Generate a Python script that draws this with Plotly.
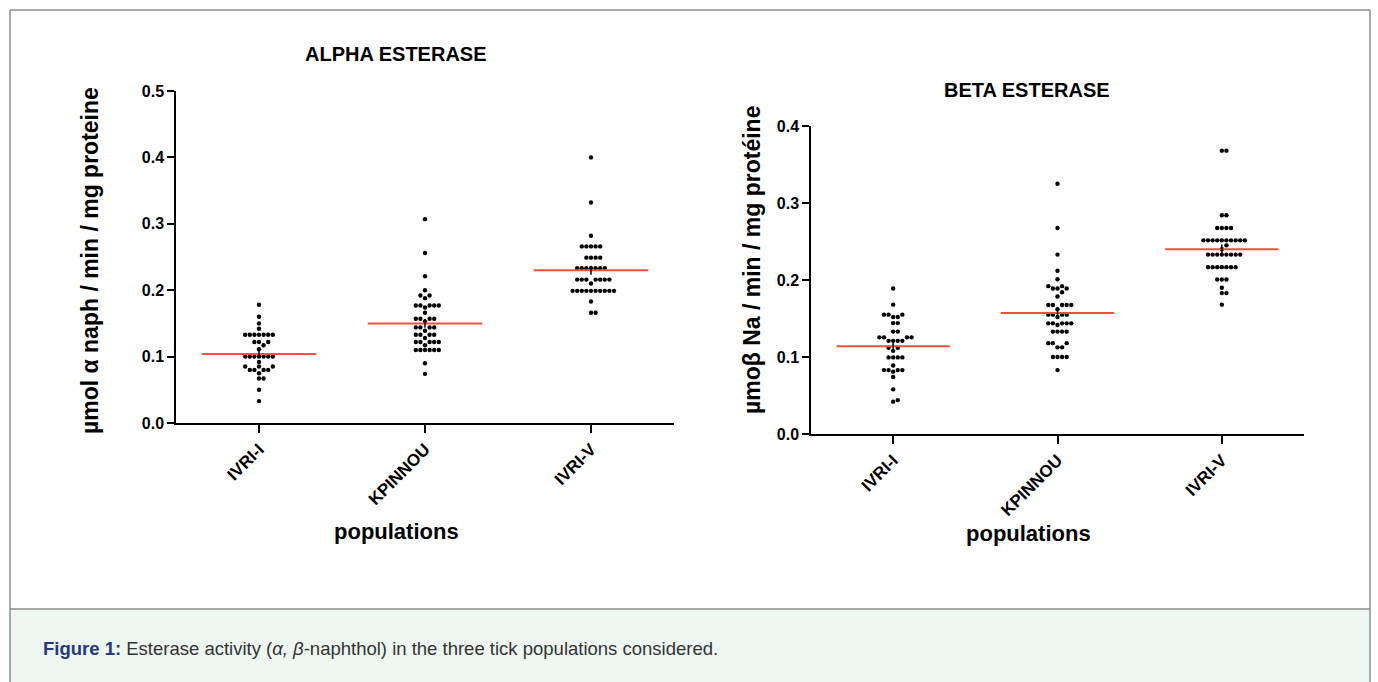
import numpy as np
import plotly.graph_objects as go

W, H = 1378, 682

categories = ["IVRI-I", "KPINNOU", "IVRI-V"]

# ---- ALPHA ESTERASE values (µmol α naph / min / mg proteine)
alpha_ivri_i = [0.178, 0.160, 0.150, 0.142] + [0.133] * 7 + [0.122] * 3 + [0.117, 0.111] \
    + [0.100] * 7 + [0.092] + [0.085] * 3 + [0.080] * 4 + [0.075] + [0.067] * 2 + [0.050, 0.033]
alpha_kpinnou = [0.307, 0.256, 0.221, 0.200, 0.192, 0.192, 0.188] + [0.177] * 5 + [0.174, 0.166] \
    + [0.157] * 4 + [0.153] + [0.144] * 4 + [0.139] + [0.133] * 4 + [0.128] + [0.122] * 5 \
    + [0.117] + [0.110] * 6 + [0.090, 0.074]
alpha_ivri_v = [0.400, 0.332, 0.282] + [0.266] * 5 + [0.249] * 4 + [0.233] * 7 + [0.216] * 7 \
    + [0.210] + [0.199] * 10 + [0.183] + [0.166] * 2
alpha_means = [0.104, 0.150, 0.230]

# ---- BETA ESTERASE values (µmoβ Na / min / mg protéine)
beta_ivri_i = [0.189, 0.168] + [0.155] * 3 + [0.152] * 2 + [0.144] * 2 + [0.133] * 2 \
    + [0.1255] * 4 + [0.121] * 4 + [0.112] * 2 + [0.108] + [0.0995] * 4 + [0.089] \
    + [0.083] * 4 + [0.081, 0.074, 0.058, 0.044, 0.042]
beta_kpinnou = [0.325, 0.2675, 0.233, 0.212, 0.201] + [0.192] * 2 + [0.189] * 3 + [0.184, 0.1785] \
    + [0.1676] * 5 + [0.162] + [0.155] * 4 + [0.152] + [0.1437] * 5 + [0.1416] + [0.133] * 4 \
    + [0.118] * 3 + [0.1125] * 2 + [0.100] * 4 + [0.083]
beta_ivri_v = [0.368] * 2 + [0.284] * 2 + [0.2675] * 4 + [0.2515] * 10 + [0.245, 0.240] \
    + [0.233] * 8 + [0.2167] * 7 + [0.2007] * 3 + [0.190] + [0.183] * 2 + [0.168]
beta_means = [0.114, 0.157, 0.240]

alpha_groups = [alpha_ivri_i, alpha_kpinnou, alpha_ivri_v]
beta_groups = [beta_ivri_i, beta_kpinnou, beta_ivri_v]

# ---- layout geometry (pixels)
L_X0, L_X1, L_Y0, L_Y1 = 176, 674, 423, 91   # left plot area
R_X0, R_X1, R_Y0, R_Y1 = 811, 1304, 434, 126  # right plot area
L_YMAX, R_YMAX = 0.5, 0.4


def swarm(values, px_per_unit, px_per_cat, d=4.6):
    """Beeswarm horizontal offsets (in category units)."""
    order = np.argsort(values)
    placed = []
    offs = np.zeros(len(values))
    for i in order:
        y = values[i] * px_per_unit
        k = 0
        while True:
            cand = 0 if k == 0 else ((k + 1) // 2) * d * (1 if k % 2 else -1)
            ok = all((cand - px) ** 2 + (y - py) ** 2 >= (d * 0.98) ** 2 for px, py in placed)
            if ok:
                break
            k += 1
        placed.append((cand, y))
        offs[i] = cand / px_per_cat
    return offs


fig = go.Figure()


def add_panel(groups, means, xa, ya, ppu, ppc):
    for ci, vals in enumerate(groups):
        vals = np.array(vals, dtype=float)
        offs = swarm(vals, ppu, ppc)
        fig.add_trace(go.Scatter(
            x=ci + offs, y=vals, mode="markers", xaxis=xa, yaxis=ya,
            marker=dict(size=4.4, color="black", line=dict(width=0)),
            showlegend=False, hoverinfo="y"))
        m = means[ci]
        sem = vals.std(ddof=1) / np.sqrt(len(vals))
        fig.add_trace(go.Scatter(
            x=[ci - 0.345, ci + 0.345], y=[m, m], mode="lines", xaxis=xa, yaxis=ya,
            line=dict(color="#f4503c", width=2), showlegend=False, hoverinfo="skip"))
        fig.add_trace(go.Scatter(
            x=[ci, ci], y=[m - sem, m + sem], mode="lines", xaxis=xa, yaxis=ya,
            line=dict(color="black", width=1.5), showlegend=False, hoverinfo="skip"))


add_panel(alpha_groups, alpha_means, "x", "y",
          (L_Y0 - L_Y1) / L_YMAX, (L_X1 - L_X0) / 3)
add_panel(beta_groups, beta_means, "x2", "y2",
          (R_Y0 - R_Y1) / R_YMAX, (R_X1 - R_X0) / 3)

FONT = "Liberation Sans, Arial, sans-serif"


def xax(x0, x1):
    return dict(domain=[x0 / W, x1 / W], range=[-0.5, 2.5], tickvals=[0, 1, 2],
                ticktext=categories, tickangle=-45, ticks="outside", ticklen=8,
                tickwidth=1.5, tickcolor="black", showline=True, linecolor="black",
                linewidth=1.5, showgrid=False, zeroline=False, fixedrange=True,
                automargin=False,
                tickfont=dict(family=FONT, size=17, color="black", weight="bold"))


def yax(y0, y1, ymax, anchor):
    return dict(domain=[1 - y0 / H, 1 - y1 / H], range=[0, ymax], dtick=0.1,
                tickformat=".1f", ticks="outside", ticklen=7, tickwidth=1.5,
                tickcolor="black", showline=True, linecolor="black", linewidth=1.5,
                showgrid=False, zeroline=False, fixedrange=True, anchor=anchor,
                automargin=False,
                tickfont=dict(family=FONT, size=16, color="black", weight="bold"))


fig.update_layout(
    width=W, height=H, autosize=False, margin=dict(l=0, r=0, t=0, b=0, pad=0, autoexpand=False),
    paper_bgcolor="white", plot_bgcolor="rgba(0,0,0,0)",
    xaxis=dict(xax(L_X0, L_X1), anchor="y"),
    yaxis=yax(L_Y0, L_Y1, L_YMAX, "x"),
    xaxis2=dict(xax(R_X0, R_X1), anchor="y2"),
    yaxis2=yax(R_Y0, R_Y1, R_YMAX, "x2"),
)

# frame and caption box
fig.add_shape(type="rect", xref="paper", yref="paper", x0=10 / W, x1=1370 / W,
              y0=1 - 609 / H, y1=0, fillcolor="#eef6f1", line=dict(width=0), layer="below")
fig.add_shape(type="line", xref="paper", yref="paper", x0=10 / W, x1=10 / W,
              y0=0, y1=1 - 10 / H, line=dict(color="#8c8c8c", width=1.5))
fig.add_shape(type="line", xref="paper", yref="paper", x0=1370 / W, x1=1370 / W,
              y0=0, y1=1 - 10 / H, line=dict(color="#8c8c8c", width=1.5))
fig.add_shape(type="line", xref="paper", yref="paper", x0=10 / W, x1=1370 / W,
              y0=1 - 10 / H, y1=1 - 10 / H, line=dict(color="#8c8c8c", width=1.5))
fig.add_shape(type="line", xref="paper", yref="paper", x0=10 / W, x1=1370 / W,
              y0=1 - 609 / H, y1=1 - 609 / H, line=dict(color="#8c8c8c", width=1.5))


def ann(text, x, y, size, angle=0, color="black", xanchor="center", bold=True):
    fig.add_annotation(text=text, x=x / W, y=1 - y / H, xref="paper", yref="paper",
                       showarrow=False, textangle=angle, xanchor=xanchor, yanchor="middle",
                       font=dict(family=FONT, size=size, color=color,
                                 weight="bold" if bold else "normal"))


ann("ALPHA ESTERASE", 396, 54, 20)
ann("BETA ESTERASE", 1027, 90, 20)
ann("populations", 396, 531, 22)
ann("populations", 1028, 533, 22)
ann("µmol α naph / min / mg proteine", 90, 261, 23, angle=-90)
ann("µmoβ Na / min / mg protéine", 752, 260, 23, angle=-90)
ann("<b><span style='color:#23397a'>Figure 1:</span></b> Esterase activity (<i>α,</i> <i>β</i>-naphthol) "
    "in the three tick populations considered.", 41, 648, 18.5, color="#333333",
    xanchor="left", bold=False)

fig.write_html("out.html", config={"displayModeBar": False},
               post_script="document.documentElement.style.margin='0';document.body.style.margin='0';"
                           "document.body.style.padding='0';document.body.style.overflow='hidden';")
